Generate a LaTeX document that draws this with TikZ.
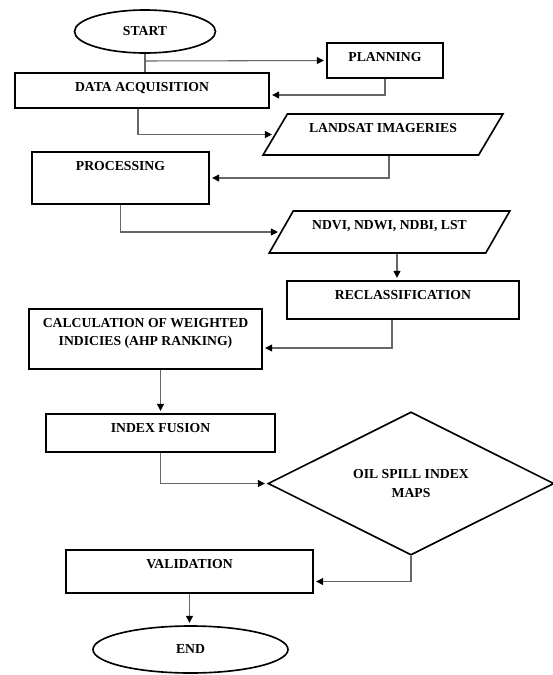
\documentclass[tikz,border=0pt]{standalone}
\usepackage{fontspec}
\setmainfont{Liberation Serif}
\usepackage{tikz}
\usetikzlibrary{arrows.meta,shapes.geometric,calc}
\tikzset{
  procbox/.style={
    rectangle, draw=black, line width=1.4pt,
    minimum width=#1, inner xsep=4pt, inner ysep=0.285cm,
    text height=0.27cm, align=center,
    font=\bfseries\fontsize{11.7}{15}\selectfont
  },
  procbox/.default=5cm,
  databox/.style={
    trapezium, trapezium left angle=64, trapezium right angle=116,
    trapezium stretches=true, draw=black, line width=1.4pt,
    minimum width=#1, inner xsep=4pt, inner ysep=0.285cm,
    text height=0.27cm, align=center,
    font=\bfseries\fontsize{11.7}{15}\selectfont
  },
  databox/.default=7cm,
  termbox/.style={ellipse, draw=black, line width=1.4pt, inner sep=0pt,
    font=\bfseries\fontsize{11.7}{15}\selectfont},
  decbox/.style={diamond, draw=black, line width=1.4pt, inner sep=0pt,
    align=center, font=\bfseries\fontsize{11.7}{15.5}\selectfont},
  flowline/.style={draw=black!60, line width=0.9pt},
  flowarrow/.style={
    flowline, -{Triangle[length=6pt,width=6pt,color=black]}, shorten >=2pt
  },
}

\begin{document}
\begin{tikzpicture}
  \useasboundingbox (0,0) rectangle (16.59,-20.25);
  % Upper chain
  \node[termbox, minimum width=4.23cm, minimum height=1.29cm] (start) at (4.35,-0.945) {START};
  \node[procbox=3.48cm, text depth=0.21cm] (plan) at (11.55,-1.815) {PLANNING};
  \node[procbox=7.62cm, text depth=0.21cm] (acq) at (4.26,-2.715) {DATA ACQUISITION};
  \node[databox=7.2cm, text depth=0.39cm] (land) at (11.49,-4.035) {LANDSAT IMAGERIES};
  \node[procbox=5.31cm, text depth=0.72cm] (proc) at (3.615,-5.34) {PROCESSING};
  \node[databox=7.23cm, text depth=0.42cm] (ndvi) at (11.685,-6.96) {NDVI, NDWI, NDBI, LST};
  \node[procbox=6.96cm, text depth=0.3cm] (recl) at (12.09,-9.0) {RECLASSIFICATION};

  % Lower chain
  \node[procbox=6.99cm, text height=0.8cm, text depth=0.43cm] (calc) at (4.365,-10.17) {CALCULATION OF WEIGHTED\\INDICIES (AHP RANKING)};
  \node[procbox=6.87cm, text depth=0.3cm] (fus) at (4.815,-12.99) {INDEX FUSION};
  \node[decbox, minimum width=8.58cm, minimum height=3.03cm] (oil) at (12.33,-14.505) {OIL SPILL INDEX\\MAPS};
  \node[procbox=7.41cm, text depth=0.45cm] (val) at (5.685,-17.145) {VALIDATION};
  \node[termbox, minimum width=5.85cm, minimum height=1.41cm] (stop) at (5.715,-19.485) {END};

  % Connectors
  \coordinate (split) at (4.35,-1.83);
  \draw[flowline] (start.south) -- (start.south |- acq.north);
  \draw[flowarrow] (split) -- (plan.west);
  \draw[flowarrow] (plan.south) |- ([yshift=-0.135cm]acq.east);
  \draw[flowarrow] ([xshift=-0.12cm]acq.south) |- (land.west);
  \draw[flowarrow] ([xshift=0.18cm]land.south) |- (proc.east);
  \draw[flowarrow] (proc.south) |- (ndvi.west);
  \draw[flowarrow] ([xshift=-0.18cm]recl.north |- ndvi.south) -- ([xshift=-0.18cm]recl.north);
  \draw[flowarrow] ([xshift=-0.33cm]recl.south) |- ([yshift=-0.27cm]calc.east);
  \draw[flowarrow] (calc.south -| fus) -- (fus.north);
  \draw[flowarrow] (fus.south) |- (oil.west);
  \draw[flowarrow] (oil.south) |- ([yshift=-0.3cm]val.east);
  \draw[flowarrow] (val.south) -- (val.south |- stop.north);
\end{tikzpicture}
\end{document}
